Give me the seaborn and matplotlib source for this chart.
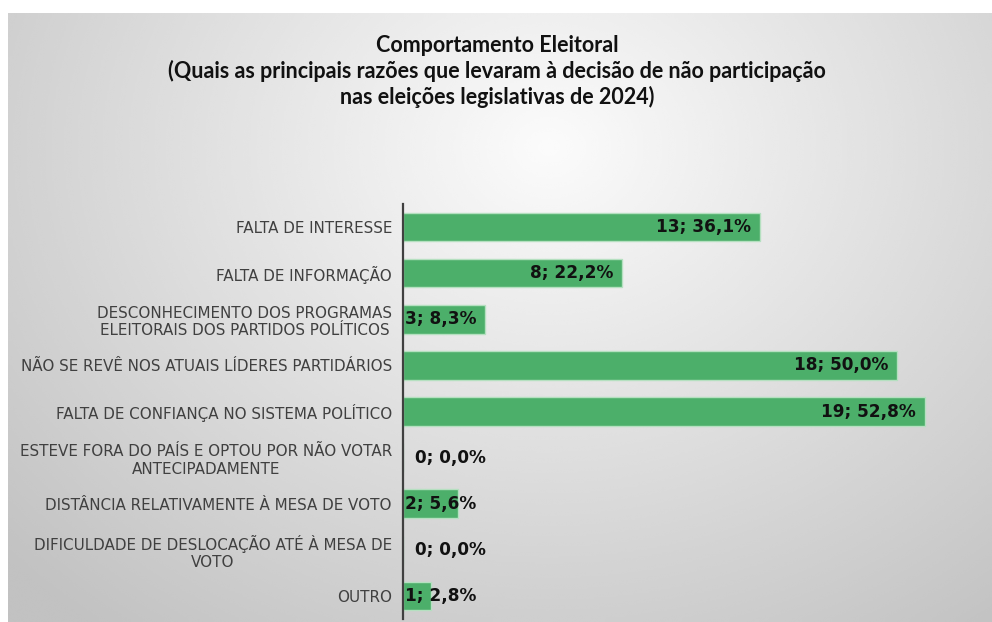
import numpy as np
import matplotlib
matplotlib.use("Agg")
import matplotlib.pyplot as plt
import seaborn as sns

categories = [
    "FALTA DE INTERESSE",
    "FALTA DE INFORMAÇÃO",
    "DESCONHECIMENTO DOS PROGRAMAS\nELEITORAIS DOS PARTIDOS POLÍTICOS",
    "NÃO SE REVÊ NOS ATUAIS LÍDERES PARTIDÁRIOS",
    "FALTA DE CONFIANÇA NO SISTEMA POLÍTICO",
    "ESTEVE FORA DO PAÍS E OPTOU POR NÃO VOTAR\nANTECIPADAMENTE",
    "DISTÂNCIA RELATIVAMENTE À MESA DE VOTO",
    "DIFICULDADE DE DESLOCAÇÃO ATÉ À MESA DE\nVOTO",
    "OUTRO",
]
counts = [13, 8, 3, 18, 19, 0, 2, 0, 1]
percents = [36.1, 22.2, 8.3, 50.0, 52.8, 0.0, 5.6, 0.0, 2.8]

title = ("Comportamento Eleitoral\n"
         "(Quais as principais razões que levaram à decisão de não participação\n"
         "nas eleições legislativas de 2024)")

sns.set_style("white")
plt.rcParams["font.family"] = ["Lato", "DejaVu Sans"]

W, H = 992, 622
fig = plt.figure(figsize=(W / 100, H / 100), dpi=100)
fig.patch.set_facecolor("white")

# gray radial gradient background of the chart area
bg = fig.add_axes([8 / W, 0, 1 - 8 / W, (H - 13) / H], zorder=-5)
yy, xx = np.mgrid[0:1:300j, 0:1:500j]
r = np.sqrt(((xx - 0.55) * 1.0) ** 2 + ((yy - 0.22) * 0.75) ** 2)
shade = np.clip(0.985 - 0.30 * r, 0.76, 1.0)
bg.imshow(shade, cmap="gray", vmin=0, vmax=1, aspect="auto",
          extent=[0, 1, 1, 0], interpolation="bicubic")
bg.set_axis_off()

ax = fig.add_axes([403 / W, (H - 619) / H, (W - 403) / W, (619 - 204) / H])
ax.set_facecolor("none")
sns.barplot(x=percents, y=categories, orient="h", color="#4caf6a",
            width=0.62, edgecolor="#b5e0c0", linewidth=1, saturation=1, ax=ax)
ax.set_xlim(0, (W - 403) / 9.886)
ax.set_ylim(len(categories) - 0.5, -0.5)

for s in ["top", "right", "bottom"]:
    ax.spines[s].set_visible(False)
ax.spines["left"].set_color("#404040")
ax.spines["left"].set_linewidth(1.6)
ax.set_xticks([])
ax.set_xlabel("")
ax.set_ylabel("")
ax.tick_params(axis="y", length=0, pad=8)
for lbl in ax.get_yticklabels():
    lbl.set_fontfamily("DejaVu Sans")
    lbl.set_fontsize(10.9)
    lbl.set_color("#404040")
    lbl.set_multialignment("center")

for i, (c, p) in enumerate(zip(counts, percents)):
    txt = f"{c}; {p:.1f}%".replace(".", ",")
    if p >= 8:
        x, ha = p - 0.9, "right"
    elif p > 0:
        x, ha = 0.2, "left"
    else:
        x, ha = 1.2, "left"
    ax.text(x, i, txt, ha=ha, va="center", fontsize=12.2,
            fontweight="bold", color="#111111", family="DejaVu Sans")

fig.text(497 / W, 1 - 35 / H, title, ha="center", va="top", fontsize=15.5,
         fontweight="bold", color="#111111", linespacing=1.22)

fig.savefig("out.png", dpi=100)
